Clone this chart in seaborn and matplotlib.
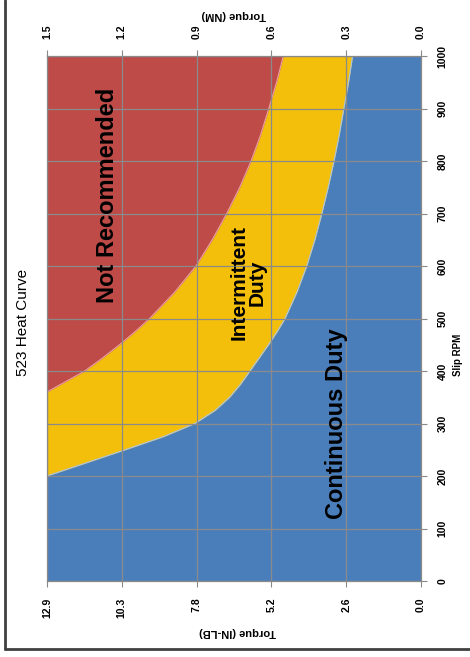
import numpy as np
import pandas as pd
import matplotlib
matplotlib.use("Agg")
import matplotlib.pyplot as plt
import seaborn as sns

# ---- data ----
rpm_cont = [0, 200, 225, 250, 275, 300, 325, 350, 375, 400, 425, 450, 475, 500,
            550, 600, 650, 700, 750, 800, 850, 900, 950, 1000]
torque_cont = [12.9, 12.9, 11.55, 10.2, 8.88, 7.8, 7.1, 6.6, 6.22, 5.9, 5.58, 5.26,
               4.96, 4.69, 4.28, 3.94, 3.66, 3.42, 3.2, 3.0, 2.82, 2.66, 2.5, 2.36]

rpm_int = [360, 400, 425, 450, 475, 500, 550, 600, 650, 700, 750, 800, 850, 900, 950, 1000]
torque_int = [12.9, 11.6, 10.98, 10.4, 9.86, 9.36, 8.5, 7.76, 7.2, 6.7, 6.25, 5.86,
              5.53, 5.25, 4.98, 4.75]

rpm_range = [0, 1000]
torque_max = 12.9

inlb_labels = ["0.0", "2.6", "5.2", "7.8", "10.3", "12.9"]
nm_labels = ["0.0", "0.3", "0.6", "0.9", "1.2", "1.5"]
rpm_ticks = [0, 100, 200, 300, 400, 500, 600, 700, 800, 900, 1000]

title = "523 Heat Curve"
region_labels = ["Not Recommended", "Intermittent\nDuty", "Continuous Duty"]

# ---- style ----
sns.set_style("white")
plt.rcParams["font.family"] = ["Liberation Sans", "DejaVu Sans"]
plt.rcParams["text.color"] = "black"
plt.rcParams["xtick.labelcolor"] = "black"
plt.rcParams["ytick.labelcolor"] = "black"

C_BLUE = "#4A7EBB"
C_RED = "#BE4B48"
C_YEL = "#F4BF0A"
GRID = "#8A8A8A"

W, H = 470, 657
fig = plt.figure(figsize=(W / 100, H / 100), dpi=100)
ax = fig.add_axes([47 / W, 1 - 581 / H, (421 - 47) / W, (581 - 56) / H])

# intermittent (yellow) background region
ax.fill_betweenx(rpm_range, 0, torque_max, color=C_YEL, lw=0, zorder=1)
# not recommended (red)
ax.fill_betweenx(rpm_int, torque_int, torque_max, color=C_RED, lw=0, zorder=1.1)
# continuous (blue)
ax.fill_betweenx(rpm_cont, 0, torque_cont, color=C_BLUE, lw=0, zorder=1.2)

df_int = pd.DataFrame({"torque": torque_int, "rpm": rpm_int})
df_cont = pd.DataFrame({"torque": torque_cont, "rpm": rpm_cont})
sns.lineplot(data=df_int, x="torque", y="rpm", orient="y", color="#EBA3A1",
             lw=0.8, ax=ax, zorder=1.5)
sns.lineplot(data=df_cont[df_cont["rpm"] >= 200], x="torque", y="rpm", orient="y",
             color="#A8C5EA", lw=0.8, ax=ax, zorder=1.5)

ax.set_xlim(torque_max, 0)
ax.set_ylim(0, 1000)
xt = np.linspace(0, torque_max, len(inlb_labels))
ax.set_xticks(xt)
ax.set_xticklabels(inlb_labels, rotation=90, fontsize=7.5, fontweight="bold")
ax.set_yticks(rpm_ticks)
ax.yaxis.tick_right()
ax.set_yticklabels([str(v) for v in rpm_ticks], rotation=90, fontsize=7.5,
                   fontweight="bold", va="center")
ax.set_xlabel("")
ax.set_ylabel("")
ax.tick_params(axis="both", length=4, width=0.8, color=GRID, pad=8,
               bottom=True, right=True, left=False, labelcolor="black")

ax.set_axisbelow(False)
ax.grid(True, color=GRID, lw=0.9)

for s in ax.spines.values():
    s.set_color(GRID)
    s.set_linewidth(0.9)

axt = ax.twiny()
axt.set_xlim(ax.get_xlim())
axt.set_xticks(xt)
axt.set_xticklabels(nm_labels, rotation=90, fontsize=7.5, fontweight="bold")
axt.tick_params(axis="x", length=4, width=0.8, color=GRID, pad=8, labelcolor="black")
for s in axt.spines.values():
    s.set_visible(False)


def px(x, y):
    return x / W, 1 - y / H


fig.text(*px(108, 195), region_labels[0], rotation=90, fontsize=17,
         fontweight="bold", ha="center", va="center", color="black")
fig.text(*px(248, 283), region_labels[1], rotation=90, fontsize=15,
         fontweight="bold", ha="center", va="center", linespacing=0.95,
         multialignment="center", color="black")
fig.text(*px(336, 424), region_labels[2], rotation=90, fontsize=17,
         fontweight="bold", ha="center", va="center", color="black")

# titles / axis titles
fig.text(*px(23, 322), title, rotation=90, fontsize=11, ha="center", va="center",
         color="black")
fig.text(*px(238, 632), "Torque (IN-LB)", rotation=180, fontsize=8,
         fontweight="bold", ha="center", va="center", color="black")
fig.text(*px(234, 15), "Torque (NM)", rotation=180, fontsize=8,
         fontweight="bold", ha="center", va="center", color="black")
fig.text(*px(458, 355), "Slip RPM", rotation=90, fontsize=7,
         fontweight="bold", ha="center", va="center", color="black")

# outer frame (left and bottom)
fig.add_artist(plt.Line2D([5 / W, 5 / W], [1 - 649 / H, 1], color="#404040",
                          lw=2, transform=fig.transFigure))
fig.add_artist(plt.Line2D([5 / W, 1], [1 - 649 / H, 1 - 649 / H], color="#404040",
                          lw=2, transform=fig.transFigure))

fig.savefig("out.png", dpi=100)
